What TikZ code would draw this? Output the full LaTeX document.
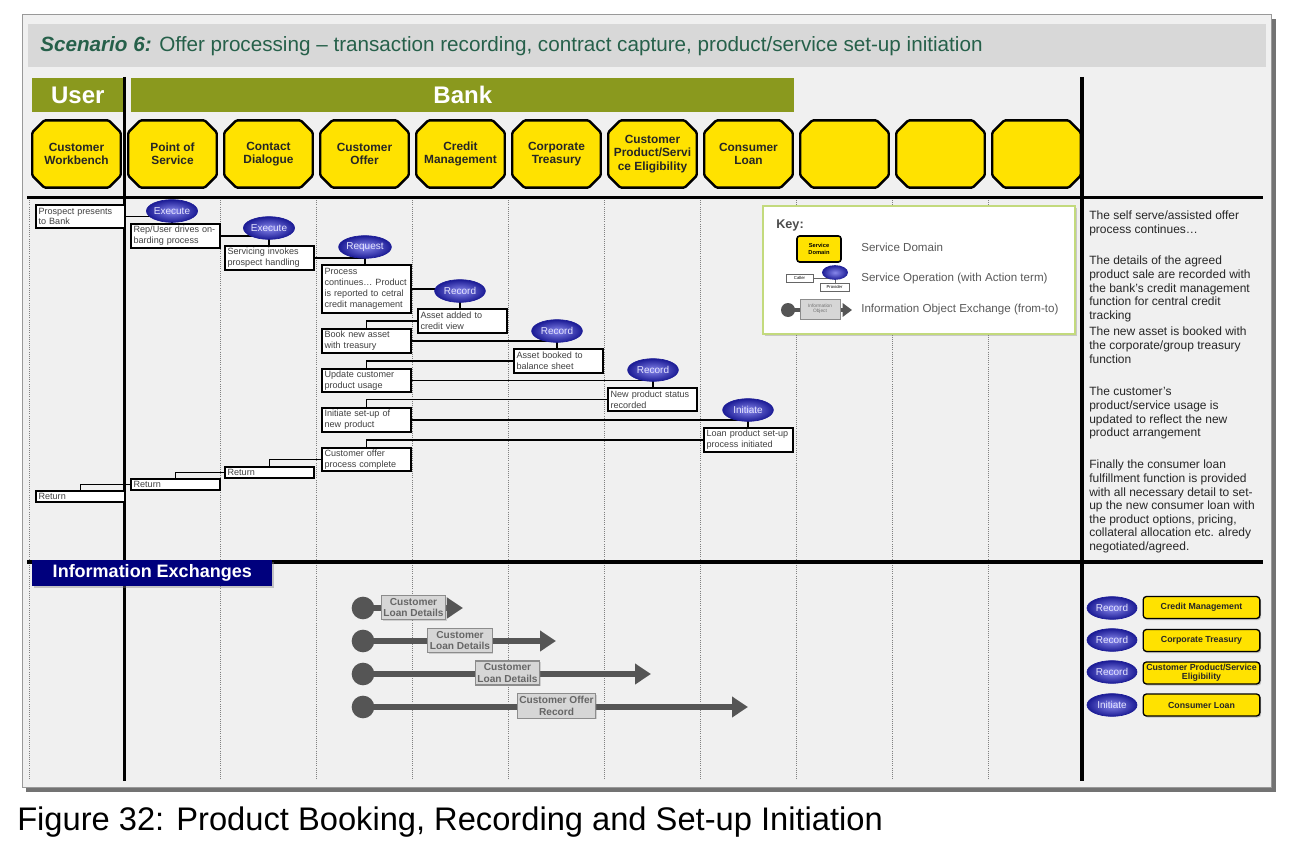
\documentclass[tikz,border=0pt]{standalone}
\usepackage{fontspec}
\setmainfont{Liberation Sans}
\usetikzlibrary{shapes.geometric,shadows,arrows.meta,calc}

\pgfdeclarelayer{fg}
\pgfsetlayers{main,fg}

\definecolor{sdyellow}{RGB}{255,226,0}
\definecolor{grpolive}{RGB}{138,153,30}
\definecolor{titlegreen}{RGB}{38,96,74}
\definecolor{panelgrey}{RGB}{240,240,240}
\definecolor{bandgrey}{RGB}{216,216,216}
\definecolor{oplight}{RGB}{135,135,235}
\definecolor{opdark}{RGB}{28,28,150}
\definecolor{ienavy}{RGB}{0,0,125}
\definecolor{iedark}{RGB}{85,85,85}
\definecolor{iefill}{RGB}{214,214,214}
\definecolor{keygreen}{RGB}{195,218,125}

\tikzset{
  lanebar/.style={line width=2.6pt,black},
  gridline/.style={densely dotted,line width=0.6pt,black!50},
  grpbar/.style={fill=grpolive,text=white,inner sep=0pt,anchor=north west,
    font=\fontsize{18}{20}\selectfont\bfseries},
  sdlabel/.style={rectangle,minimum width=66pt,minimum height=50pt,inner sep=0pt,
    align=center,text=black!85,font=\fontsize{8.9}{10}\selectfont\bfseries},
  sdshape/.style={fill=sdyellow,draw=black,line width=1.8pt,rounded corners=1pt},
  flowbox/.style={rectangle,draw=black,line width=1.4pt,fill=white,
    anchor=north west,text width=62.5pt,inner xsep=2pt,inner ysep=0.8pt,
    align=left,text=black!75,font=\fontsize{6.8}{8.2}\selectfont},
  opball/.style={ellipse,minimum width=38pt,minimum height=17pt,inner sep=0pt,
    draw=opdark,line width=0.5pt,inner color=oplight,outer color=opdark,
    text=white!90!blue,font=\fontsize{7.5}{8}\selectfont},
  conn/.style={line width=1.1pt,black},
  iedot/.style={circle,fill=iedark,minimum size=17pt,inner sep=0pt},
  ieflow/.style={line width=5pt,iedark,-{Triangle[length=12pt,width=15pt]}},
  iebox/.style={rectangle,fill=iefill,draw=black!45,line width=0.8pt,
    text=black!60,align=center,inner xsep=1.5pt,inner ysep=2pt,
    font=\fontsize{7.6}{8.6}\selectfont\bfseries,
    drop shadow={shadow xshift=1pt,shadow yshift=-1pt,opacity=.3}},
  sidetext/.style={anchor=north west,align=left,inner sep=0pt,text=black!85,
    font=\fontsize{9}{10.2}\selectfont},
  keytxt/.style={anchor=west,inner sep=0pt,text=black!65,
    font=\fontsize{8.7}{10}\selectfont},
  lgbox/.style={rectangle,rounded corners=2.5pt,fill=sdyellow,draw=black,
    line width=1pt,minimum width=87.5pt,minimum height=16.5pt,inner sep=0.5pt,
    align=center,text=black!85,font=\fontsize{6.6}{7}\selectfont\bfseries,
    drop shadow={shadow xshift=1pt,shadow yshift=-1.2pt,opacity=.4}}
}

\begin{document}
\begin{tikzpicture}[x=0.75pt,y=0.75pt,yscale=-1,xscale=1]
\useasboundingbox (0,0) rectangle (1296,863);

%Shape: Rectangle (frame and title band)
\fill[black!55] (26,19) rectangle (1276,792);
\draw[black!40,fill=panelgrey] (22,14) rectangle (1271,787);
\fill[bandgrey] (28,24) rectangle (1266,67);

%Straight Lines (lanes)
\foreach \gx in {29,220.5,316.5,412.5,508.5,604.5,700.5,796.5,892.5,988.5}
  \draw[gridline] (\gx,198) -- (\gx,780);
\draw[lanebar] (124.5,77) -- (124.5,781);
\draw[lanebar] (1082,77) -- (1082,781);
\draw[lanebar] (27,197.5) -- (1263,197.5);
\draw[lanebar] (27,562) -- (1263,562);

%Shape: Rectangle (key)
\node[anchor=north west,fill=white,draw=keygreen,line width=1.6pt,minimum width=234pt,
  minimum height=96pt,drop shadow={shadow xshift=1.2pt,shadow yshift=-1.2pt,opacity=.35}] (key) at (762,205) {};

\begin{pgfonlayer}{fg}
% Text Node
\node[anchor=west,inner sep=0pt,text=titlegreen,font=\fontsize{15.5}{17}\selectfont]
  (title) at (40,46) {{\bfseries\itshape Scenario 6:} Offer processing -- transaction recording, contract capture, product/service set-up initiation};

% Text Node
\node[grpbar,minimum width=68.25pt,minimum height=25.5pt] (user) at (32,78) {User};
\node[grpbar,minimum width=497.25pt,minimum height=25.5pt] (bank) at (131,78) {Bank};

% Text Node (service domains)
\foreach \sdn/\sdx/\sdl in {sdcw/76.5/{Customer\\Workbench},sdpos/172.5/{Point of\\Service},
    sdcd/268.5/{Contact\\Dialogue},sdco/364.5/{Customer\\Offer},sdcm/460.5/{Credit\\Management},
    sdct/556.5/{Corporate\\Treasury},sdcpe/652.5/{Customer\\Product/Servi\\ce Eligibility},
    sdcl/748.5/{Consumer\\Loan},sdxa/844.5/{},sdxb/940.5/{},sdxc/1036.5/{}}
  \node[sdlabel] (\sdn) at (\sdx,154) {\sdl};

% Text Node (flow)
\node[flowbox,minimum height=17.25pt] (pres) at (35,204) {Prospect presents\\to Bank};
\node[flowbox,minimum height=18pt] (rep) at (130,223) {Rep/User drives on-\\barding process};
\node[flowbox,minimum height=18pt] (serv) at (224,245) {Servicing invokes\\prospect handling};
\node[flowbox,minimum height=36pt] (proc) at (321,264) {Process\\continues… Product\\is reported to cetral\\credit management};
\node[flowbox,minimum height=18pt] (addc) at (417,308) {Asset added to\\credit view};
\node[flowbox,minimum height=18pt] (book) at (321,328) {Book new asset\\with treasury};
\node[flowbox,minimum height=18pt] (bsheet) at (513,348) {Asset booked to\\balance sheet};
\node[flowbox,minimum height=17.25pt] (upd) at (321,368) {Update customer\\product usage};
\node[flowbox,minimum height=17.25pt] (nps) at (607,387) {New product status\\recorded};
\node[flowbox,minimum height=18pt] (init) at (321,407) {Initiate set-up of\\new product};
\node[flowbox,minimum height=18pt] (loan) at (703,427) {Loan product set-up\\process initiated};
\node[flowbox,minimum height=17.25pt] (done) at (321,447) {Customer offer\\process complete};
\node[flowbox,minimum height=8.5pt] (reta) at (224,466) {Return};
\node[flowbox,minimum height=8.5pt] (retb) at (130,478) {Return};
\node[flowbox,minimum height=8.5pt] (retc) at (35,490) {Return};

%Shape: Ellipse (operations)
\node[opball] (exa) at (172,211) {Execute};
\node[opball] (exb) at (269,228) {Execute};
\node[opball,minimum width=39.5pt] (req) at (365,247) {Request};
\node[opball] (reca) at (460,291) {Record};
\node[opball] (recb) at (557,331) {Record};
\node[opball] (recc) at (653,370) {Record};
\node[opball] (ini) at (748,410) {Initiate};

% Key
\node[anchor=west,inner sep=0pt,text=black!70,font=\fontsize{9.5}{10}\selectfont\bfseries] (keyhd) at (776,225) {Key:};
\node[rectangle,rounded corners=2pt,fill=sdyellow,draw=black,line width=1.2pt,minimum width=33pt,
  minimum height=19.5pt,inner sep=0pt,align=center,font=\fontsize{4.3}{4.8}\selectfont\bfseries] (ksd) at (819,249) {Service\\Domain};
\node[keytxt] (ksdt) at (861,247) {Service Domain};
\node[rectangle,draw=black!60,fill=white,minimum width=20pt,minimum height=6pt,inner sep=0pt,
  font=\fontsize{3.2}{3.5}\selectfont] (kcal) at (799.5,278) {Caller};
\node[rectangle,draw=black!60,fill=white,minimum width=21.75pt,minimum height=6pt,inner sep=0pt,
  font=\fontsize{3.2}{3.5}\selectfont] (kprov) at (834.5,287) {Provider};
\node[ellipse,minimum width=19.5pt,minimum height=11pt,inner sep=0pt,inner color=oplight,
  outer color=opdark] (kop) at (835,272.5) {};
\node[keytxt] (kopt) at (861,279) {Service Operation (with Action term)};
\node[circle,fill=iedark,minimum size=10.5pt,inner sep=0pt] (kdot) at (788,310) {};
\node[rectangle,fill=iefill,draw=black!45,minimum width=30pt,minimum height=15pt,inner sep=0pt,
  align=center,text=black!55,font=\fontsize{3.6}{4}\selectfont] (kobj) at (820,309) {Information\\Object};
\node[keytxt] (kobt) at (861,310) {Information Object Exchange (from-to)};
\coordinate (kend) at (852,310);

% Text Node (notes)
\node[sidetext] (nta) at (1089,211) {The self serve/assisted offer\\process continues…};
\node[sidetext] (ntb) at (1089,256) {The details of the agreed\\product sale are recorded with\\the bank's credit management\\function for central credit\\tracking};
\node[sidetext] (ntc) at (1089,327) {The new asset is booked with\\the corporate/group treasury\\function};
\node[sidetext] (ntd) at (1089,387) {The customer's\\product/service usage is\\updated to reflect the new\\product arrangement};
\node[sidetext] (nte) at (1089,460) {Finally the consumer loan\\fulfillment function is provided\\with all necessary detail to set-\\up the new consumer loan with\\the product options, pricing,\\collateral allocation etc. alredy\\negotiated/agreed.};

% Information exchanges
\node[anchor=north west,fill=ienavy,text=white,minimum width=180pt,minimum height=19.5pt,inner sep=0pt,
  font=\fontsize{13.5}{15}\selectfont\bfseries,
  drop shadow={shadow xshift=1.5pt,shadow yshift=-1.5pt,opacity=.4}] (iehd) at (32,560) {Information Exchanges};
\node[iedot] (doa) at (363,608) {};
\node[iedot] (dob) at (363,641) {};
\node[iedot] (doc) at (363,674) {};
\node[iedot] (dod) at (363,707) {};
\node[iebox] (oba) at (413.5,607.5) {Customer\\Loan Details};
\node[iebox] (obb) at (460,640.5) {Customer\\Loan Details};
\node[iebox] (obc) at (507.5,673) {Customer\\Loan Details};
\node[iebox] (obd) at (556.5,706) {Customer Offer\\Record};
\coordinate (ena) at (463,608);
\coordinate (enb) at (556,641);
\coordinate (enc) at (651,674);
\coordinate (end) at (748,707);

% Legend
\node[opball,minimum width=37.5pt] (lga) at (1112,608) {Record};
\node[opball,minimum width=37.5pt] (lgb) at (1112,640) {Record};
\node[opball,minimum width=37.5pt] (lgc) at (1112,672) {Record};
\node[opball,minimum width=37.5pt] (lgd) at (1112,705) {Initiate};
\node[lgbox] (lgta) at (1201.5,607.5) {Credit Management};
\node[lgbox] (lgtb) at (1201.5,640.5) {Corporate Treasury};
\node[lgbox] (lgtc) at (1201.5,673) {Customer Product/Service\\Eligibility};
\node[lgbox] (lgtd) at (1201.5,705) {Consumer Loan};

% Text Node
\node[anchor=west,inner sep=0pt,font=\fontsize{24.5}{26}\selectfont] (capt) at (17,822)
  {Figure 32: Product Booking, Recording and Set-up Initiation};
\end{pgfonlayer}

%Shape: octagons behind the service domain labels
\foreach \sdn in {sdcw,sdpos,sdcd,sdco,sdcm,sdct,sdcpe,sdcl,sdxa,sdxb,sdxc}{
  \begin{scope}[shift={(1.5,2.5)}]
    \fill[black!75,rounded corners=1pt] ($(\sdn.north west)+(12,0)$) -- ($(\sdn.north east)+(-12,0)$)
      -- ($(\sdn.north east)+(0,12)$) -- ($(\sdn.south east)+(0,-12)$) -- ($(\sdn.south east)+(-12,0)$)
      -- ($(\sdn.south west)+(12,0)$) -- ($(\sdn.south west)+(0,-12)$) -- ($(\sdn.north west)+(0,12)$) -- cycle;
  \end{scope}
  \path[sdshape] ($(\sdn.north west)+(12,0)$) -- ($(\sdn.north east)+(-12,0)$)
    -- ($(\sdn.north east)+(0,12)$) -- ($(\sdn.south east)+(0,-12)$) -- ($(\sdn.south east)+(-12,0)$)
    -- ($(\sdn.south west)+(12,0)$) -- ($(\sdn.south west)+(0,-12)$) -- ($(\sdn.north west)+(0,12)$) -- cycle;
}

%Straight Lines (connectors)
\draw[conn] (pres.east) -- (pres.east -| exa.center);
\draw[conn] (exa.center) -- (exa.center |- rep.north);
\draw[conn] (rep.east) -- (rep.east -| exb.center);
\draw[conn] (exb.center) -- (exb.center |- serv.north);
\draw[conn] (serv.east) -- (serv.east -| req.center);
\draw[conn] (req.center) -- (req.center |- proc.north);
\draw[conn] (proc.east) -- (proc.east -| reca.center);
\draw[conn] (reca.center) -- (reca.center |- addc.north);
\draw[conn] (addc.west) -| (book.north);
\draw[conn] (book.east) -- (book.east -| recb.center);
\draw[conn] (recb.center) -- (recb.center |- bsheet.north);
\draw[conn] (bsheet.west) -| (upd.north);
\draw[conn] (upd.east) -- (upd.east -| recc.center);
\draw[conn] (recc.center) -- (recc.center |- nps.north);
\draw[conn] (nps.west) -| (init.north);
\draw[conn] (init.east) -- (init.east -| ini.center);
\draw[conn] (ini.center) -- (ini.center |- loan.north);
\draw[conn] (loan.west) -| (done.north);
\draw[conn] (done.west) -| (reta.north);
\draw[conn] (reta.west) -| (retb.north);
\draw[conn] (retb.west) -| (retc.north);
\draw[line width=0.6pt,black!60] (kcal.east) -- (kcal.east -| kop.center);
\draw[line width=0.6pt,black!60] (kop.center) -- (kop.center |- kprov.north);
\draw[line width=3pt,iedark,-{Triangle[length=7pt,width=10pt]}] (kdot.center) -- (kend);
\draw[ieflow] (doa.center) -- (ena);
\draw[ieflow] (dob.center) -- (enb);
\draw[ieflow] (doc.center) -- (enc);
\draw[ieflow] (dod.center) -- (end);
\end{tikzpicture}
\end{document}
